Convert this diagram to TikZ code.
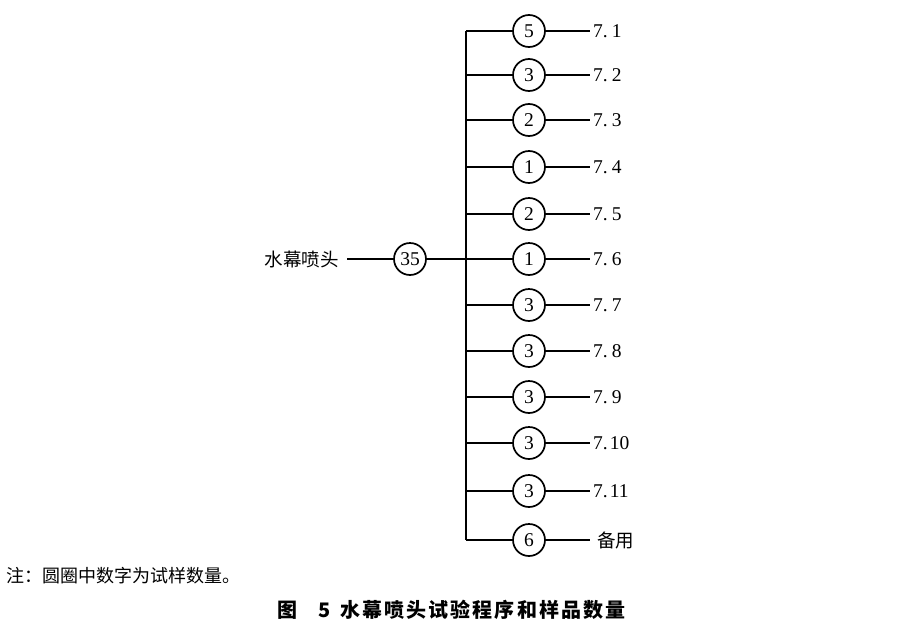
\documentclass[tikz,border=0pt]{standalone}
\usepackage{fontspec}
\setmainfont{Liberation Serif}
\newfontfamily\cjk{Noto Sans CJK SC}
\newcommand{\capch}[1]{\makebox[22.1pt][l]{#1}}
\begin{document}
\begin{tikzpicture}[x=1pt,y=-1pt,
  numcirc/.style={circle,draw,line width=1.7pt,minimum size=32pt,inner sep=0pt,font=\fontsize{19.5}{19.5}\selectfont},
  conn/.style={line width=1.1pt},
  lbl/.style={anchor=west,inner sep=0pt,font=\fontsize{19.5}{19.5}\selectfont},
  cjklbl/.style={inner sep=0pt,font=\cjk\fontsize{18.5}{19}\selectfont}]
\useasboundingbox[fill=white] (0,0) rectangle (903,627);
% root
\node[cjklbl,anchor=east] (root) at (339,259) {水幕喷头};
\node[numcirc] (c35) at (410,259) {35};
\coordinate (top) at (466,31);
\coordinate (bot) at (466,540);
\coordinate (mid) at (466,259);
\draw[conn] (347,259) coordinate (rs) -- (c35.west);
\draw[conn] (c35.east) -- (mid);
\draw[conn] (top) -- (bot);
% branches
\foreach \i/\y/\n/\t in {1/31/5/{7.\hspace{4pt}1},2/75/3/{7.\hspace{4pt}2},3/120/2/{7.\hspace{4pt}3},4/167/1/{7.\hspace{4pt}4},5/214/2/{7.\hspace{4pt}5},6/259/1/{7.\hspace{4pt}6},7/305/3/{7.\hspace{4pt}7},8/351/3/{7.\hspace{4pt}8},9/397/3/{7.\hspace{4pt}9},10/443/3/{7.\hspace{2pt}10},11/491/3/{7.\hspace{2pt}11}}{
  \coordinate (t\i) at (466,\y);
  \node[numcirc] (n\i) at (529,\y) {\n};
  \node[lbl] (l\i) at (593,\y) {\t};
  \draw[conn] (t\i) -- (n\i.west);
  \draw[conn] (n\i.east) -- (590,\y) coordinate (e\i);
}
\coordinate (t12) at (466,540);
\node[numcirc] (n12) at (529,540) {6};
\node[cjklbl,anchor=west] (l12) at (597,540) {备用};
\draw[conn] (t12) -- (n12.west);
\draw[conn] (n12.east) -- (590,540) coordinate (e12);
% notes
\node[cjklbl,anchor=west,font=\cjk\fontsize{18}{19}\selectfont] (note) at (6,576) {注：圆圈中数字为试样数量。};
\node[inner sep=0pt,anchor=west,font=\cjk\bfseries\fontsize{20}{21}\selectfont] (cap) at (277,610)
 {\makebox[41pt][l]{图}\makebox[22pt][l]{5}\capch{水}\capch{幕}\capch{喷}\capch{头}\capch{试}\capch{验}\capch{程}\capch{序}\capch{和}\capch{样}\capch{品}\capch{数}量};
\end{tikzpicture}
\end{document}
